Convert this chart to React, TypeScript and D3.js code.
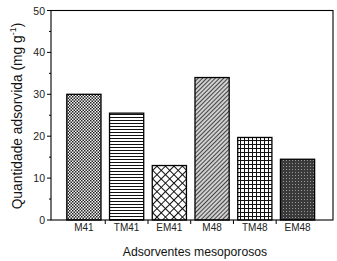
import React from "react";
import * as d3 from "d3";

const categories = ["M41", "TM41", "EM41", "M48", "TM48", "EM48"];
const values = [30.0, 25.5, 13.0, 34.0, 19.7, 14.5];
const patternIds = ["pM41", "pTM41", "pEM41", "pM48", "pTM48", "pEM48"];
const yTicks = [0, 10, 20, 30, 40, 50];
const yMinorTicks = [5, 15, 25, 35, 45];
const xTickPositions = [1.5, 2.5, 3.5, 4.5, 5.5];

const W = 337;
const H = 261;
const left = 51;
const right = 333;
const top = 10.5;
const bottom = 220;

export default function App() {
  const x = d3.scaleLinear().domain([0.23, 6.83]).range([left, right]);
  const y = d3.scaleLinear().domain([0, 50]).range([bottom, top]);
  const barW = x(0.8) - x(0);
  const font = "'Liberation Sans', Arial, sans-serif";

  return (
    <svg
      width={W}
      height={H}
      style={{ position: "absolute", left: 0, top: 0, background: "#fff" }}
      fontFamily={font}
    >
      <defs>
        <pattern id="pM41" width={3} height={3} patternUnits="userSpaceOnUse">
          <rect width={3} height={3} fill="#f4f4f4" />
          <rect x={0} y={0} width={1.5} height={1.5} fill="#222" />
          <rect x={1.5} y={1.5} width={1.5} height={1.5} fill="#222" />
        </pattern>
        <pattern id="pTM41" width={4} height={3} patternUnits="userSpaceOnUse">
          <rect width={4} height={3} fill="#fff" />
          <rect x={0} y={0} width={4} height={1} fill="#111" />
        </pattern>
        <pattern
          id="pEM41"
          width={6}
          height={6}
          patternUnits="userSpaceOnUse"
          patternTransform="rotate(45)"
        >
          <rect width={6} height={6} fill="#fff" />
          <rect x={0} y={0} width={6} height={1} fill="#111" />
          <rect x={0} y={0} width={1} height={6} fill="#111" />
        </pattern>
        <pattern
          id="pM48"
          width={3}
          height={3}
          patternUnits="userSpaceOnUse"
          patternTransform="rotate(45)"
        >
          <rect width={3} height={3} fill="#d0d0d0" />
          <rect x={0} y={0} width={1} height={3} fill="#444" />
        </pattern>
        <pattern id="pTM48" width={4} height={4} patternUnits="userSpaceOnUse">
          <rect width={4} height={4} fill="#fff" />
          <rect x={0} y={0} width={4} height={1} fill="#111" />
          <rect x={0} y={0} width={1} height={4} fill="#111" />
        </pattern>
        <pattern id="pEM48" width={3} height={3} patternUnits="userSpaceOnUse">
          <rect width={3} height={3} fill="#3a3a3a" />
          <rect x={1} y={1} width={1} height={1} fill="#999" />
        </pattern>
      </defs>

      {/* bars */}
      {categories.map((c, i) => (
        <rect
          key={c}
          x={x(i + 1) - barW / 2}
          y={y(values[i])}
          width={barW}
          height={y(0) - y(values[i])}
          fill={`url(#${patternIds[i]})`}
          stroke="#000"
          strokeWidth={1.3}
        />
      ))}

      {/* frame */}
      <rect
        x={left}
        y={top}
        width={right - left}
        height={bottom - top}
        fill="none"
        stroke="#000"
        strokeWidth={1.1}
      />

      {/* y ticks */}
      {yTicks.map((t) => (
        <g key={t}>
          <line x1={left - 4} x2={left} y1={y(t)} y2={y(t)} stroke="#000" strokeWidth={1} />
          <text
            x={left - 6}
            y={y(t)}
            textAnchor="end"
            dominantBaseline="central"
            fontSize={10.5}
            fill="#222"
          >
            {t}
          </text>
        </g>
      ))}
      {yMinorTicks.map((t) => (
        <line key={t} x1={left - 2} x2={left} y1={y(t)} y2={y(t)} stroke="#000" strokeWidth={1} />
      ))}

      {/* x ticks */}
      {xTickPositions.map((t) => (
        <line key={t} x1={x(t)} x2={x(t)} y1={bottom} y2={bottom + 4} stroke="#000" strokeWidth={1} />
      ))}

      {/* x labels */}
      {categories.map((c, i) => (
        <text
          key={c}
          x={x(i + 1)}
          y={231}
          textAnchor="middle"
          fontSize={10}
          fill="#222"
        >
          {c}
        </text>
      ))}

      {/* axis titles */}
      <text x={195} y={256} textAnchor="middle" fontSize={12.2} fill="#111">
        Adsorventes mesoporosos
      </text>
      <text
        transform={`translate(21.5, 116) rotate(-90)`}
        textAnchor="middle"
        fontSize={13.8}
        fill="#111"
      >
        Quantidade adsorvida (mg g
        <tspan dy={-6} fontSize={9}>-1</tspan>
        <tspan dy={6}>)</tspan>
      </text>
    </svg>
  );
}
